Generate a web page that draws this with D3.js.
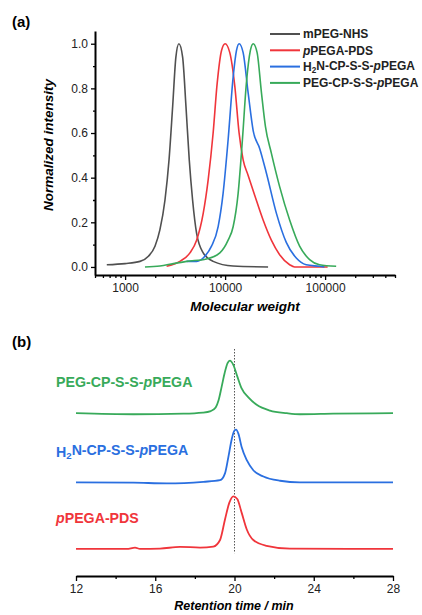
<!DOCTYPE html>
<html>
<head>
<meta charset="utf-8">
<script src="https://cdn.jsdelivr.net/npm/d3@7"></script>
<style>
  html, body { margin: 0; padding: 0; background: #fff; }
  svg { display: block; font-family: "Liberation Sans", Arial, sans-serif; }
</style>
</head>
<body>
<svg id="chart" width="422" height="615"></svg>
<script>
// ---------------- DATA ----------------
// Panel (a): molecular weight distributions [M, normalized intensity]
const mPEG_NHS = [[656,0.01],[1000,0.015],[1410,0.025],[1710,0.048],[1990,0.093],[2230,0.167],[2505,0.30],[2750,0.48],[2990,0.72],[3220,0.94],[3450,1.0],[3760,0.94],[4060,0.72],[4380,0.48],[4730,0.30],[5190,0.15],[6040,0.063],[7590,0.025],[12000,0.004],[26900,0.0]];
const pPEGA_PDS = [[2600,0.003],[3530,0.025],[4450,0.063],[5190,0.12],[6040,0.24],[6770,0.39],[7590,0.60],[8320,0.82],[9210,0.97],[10000,1.0],[11140,0.96],[12500,0.81],[13800,0.60],[15150,0.48],[17000,0.41],[19800,0.32],[24000,0.21],[29000,0.12],[35100,0.055],[44200,0.01],[49600,0.0],[106000,0.0]];
const H2N_CP_SS_pPEGA = [[4120,0.025],[5190,0.025],[6280,0.048],[7310,0.093],[8510,0.18],[9550,0.33],[10720,0.57],[12030,0.85],[13000,0.97],[13800,1.0],[15150,0.96],[17000,0.78],[19100,0.61],[22200,0.53],[25900,0.42],[32600,0.24],[40900,0.11],[51500,0.04],[64700,0.01],[87900,0.003],[98600,0.0]];
const PEG_CP_SS_pPEGA = [[1580,0.0],[2230,0.004],[3030,0.015],[4120,0.025],[6520,0.036],[8860,0.063],[10720,0.12],[12030,0.18],[13500,0.33],[14900,0.57],[16300,0.82],[17900,0.97],[19100,1.0],[20900,0.96],[23100,0.78],[25300,0.63],[29000,0.51],[35100,0.36],[44200,0.21],[55600,0.093],[70000,0.033],[87900,0.01],[129000,0.003]];

// Panel (b): GPC traces [retention time (min), normalized signal]
const gpc_PEG_CP_SS_pPEGA = [[12,0],[14.9,-0.02],[17.42,-0.01],[18.4,0.01],[18.8,0.04],[19.05,0.11],[19.2,0.25],[19.35,0.5],[19.5,0.76],[19.65,0.95],[19.77,1.0],[19.94,0.92],[20.14,0.70],[20.36,0.47],[20.7,0.30],[21.12,0.16],[21.79,0.05],[22.64,0.0],[23.3,-0.02],[24.98,-0.01],[28,0]];
const gpc_H2N_CP_SS_pPEGA = [[12,0],[14.9,-0.006],[16.58,-0.02],[18.43,0.01],[19.27,0.04],[19.52,0.17],[19.69,0.48],[19.86,0.82],[19.99,0.98],[20.08,1.0],[20.2,0.92],[20.36,0.67],[20.62,0.42],[20.95,0.23],[21.46,0.11],[22.3,0.03],[23.3,0.0],[28,0]];
const gpc_pPEGA_PDS = [[12,0],[14.56,0],[14.98,0.026],[15.23,0],[16.24,0.006],[17.25,0.04],[18.26,0.026],[18.93,0.045],[19.27,0.17],[19.52,0.56],[19.74,0.88],[19.94,1.0],[20.14,0.95],[20.36,0.69],[20.62,0.37],[20.95,0.17],[21.62,0.06],[22.8,0.006],[28,0]];
const gpcOffsets = [2.58, 1.266, 0];
const refTime = 20;

// Axis ticks
const mwMajorTicks = [1000, 10000, 100000];
const yMajorTicks = [0, 0.2, 0.4, 0.6, 0.8, 1.0];
const yMinorTicks = [0.1, 0.3, 0.5, 0.7, 0.9];
const rtMajorTicks = [12, 16, 20, 24, 28];
const rtMinorTicks = [14, 18, 22, 26];

const seriesNames = ["mPEG-NHS", "pPEGA-PDS", "H2N-CP-S-S-pPEGA", "PEG-CP-S-S-pPEGA"];
const colors = { "mPEG-NHS": "#505050", "pPEGA-PDS": "#f0353b", "H2N-CP-S-S-pPEGA": "#2a6fe0", "PEG-CP-S-S-pPEGA": "#38aa5a" };

// ---------------- DRAW ----------------
const svg = d3.select("#chart");

function richLabel(sel, name) {
  if (name === "pPEGA-PDS") {
    sel.append("tspan").attr("font-style", "italic").text("p");
    sel.append("tspan").text("PEGA-PDS");
  } else if (name === "H2N-CP-S-S-pPEGA") {
    sel.append("tspan").text("H");
    sel.append("tspan").attr("font-size", "0.68em").attr("dy", "0.3em").text("2");
    sel.append("tspan").attr("dy", "-0.3em").text("N-CP-S-S-");
    sel.append("tspan").attr("font-style", "italic").text("p");
    sel.append("tspan").text("PEGA");
  } else if (name === "PEG-CP-S-S-pPEGA") {
    sel.append("tspan").text("PEG-CP-S-S-");
    sel.append("tspan").attr("font-style", "italic").text("p");
    sel.append("tspan").text("PEGA");
  } else {
    sel.text(name);
  }
}

// ===== Panel (a) =====
const xA = d3.scaleLog().domain([500, 500000]).range([95, 395]);
const yA = d3.scaleLinear().domain([-0.036, 1.057]).range([275, 31]);

const mwMinorTicks = [];
[100, 1000, 10000, 100000].forEach(dec => {
  for (let k = 2; k <= 9; k++) {
    const v = dec * k;
    if (v >= 500 && v <= 500000 && !mwMajorTicks.includes(v)) mwMinorTicks.push(v);
  }
});

svg.append("text").attr("x", 12).attr("y", 27).attr("font-size", 15).attr("font-weight", "bold").text("(a)");

const lineA = d3.line().x(d => xA(d[0])).y(d => yA(d[1])).curve(d3.curveMonotoneX);
const dataA = [mPEG_NHS, pPEGA_PDS, H2N_CP_SS_pPEGA, PEG_CP_SS_pPEGA];
dataA.forEach((s, i) => {
  svg.append("path").datum(s).attr("d", lineA).attr("fill", "none")
    .attr("stroke", colors[seriesNames[i]]).attr("stroke-width", 1.6).attr("stroke-linejoin", "round");
});

const gxA = svg.append("g").attr("transform", "translate(0,275)");
gxA.call(d3.axisBottom(xA).tickValues(mwMinorTicks).tickSize(3).tickSizeOuter(0).tickFormat(""));
gxA.call(g => g.select(".domain").remove());
const gxA2 = svg.append("g").attr("transform", "translate(0,275)");
gxA2.call(d3.axisBottom(xA).tickValues(mwMajorTicks).tickSize(5).tickSizeOuter(0).tickFormat(d3.format("d")).tickPadding(3));
const gyA = svg.append("g").attr("transform", "translate(95,0)");
gyA.call(d3.axisLeft(yA).tickValues(yMinorTicks).tickSize(2).tickSizeOuter(0).tickFormat(""));
gyA.call(g => g.select(".domain").remove());
const gyA2 = svg.append("g").attr("transform", "translate(95,0)");
gyA2.call(d3.axisLeft(yA).tickValues(yMajorTicks).tickSize(4).tickSizeOuter(0).tickFormat(d3.format(".1f")).tickPadding(3));

[gxA, gxA2, gyA, gyA2].forEach(g => {
  g.selectAll("line").attr("stroke", "#000").attr("stroke-width", 1.3);
  g.selectAll(".domain").attr("stroke", "#000").attr("stroke-width", 2);
  g.selectAll("text").attr("font-size", 12).attr("fill", "#222").attr("font-family", "Liberation Sans, Arial, sans-serif");
});

svg.append("text").attr("transform", "translate(53,145) rotate(-90)").attr("text-anchor", "middle")
  .attr("font-size", 13.5).attr("font-weight", "bold").attr("font-style", "italic").text("Normalized intensity");
svg.append("text").attr("x", 245).attr("y", 311).attr("text-anchor", "middle")
  .attr("font-size", 13.5).attr("font-weight", "bold").attr("font-style", "italic").text("Molecular weight");

const leg = svg.append("g");
seriesNames.forEach((n, i) => {
  const yy = 34 + i * 16.3;
  leg.append("line").attr("x1", 270).attr("x2", 300).attr("y1", yy).attr("y2", yy)
    .attr("stroke", colors[n]).attr("stroke-width", 2);
  const t = leg.append("text").attr("x", 303).attr("y", yy + 4.3).attr("font-size", 12)
    .attr("font-weight", "bold").attr("fill", "#222");
  richLabel(t, n);
});

// ===== Panel (b) =====
const xB = d3.scaleLinear().domain([12, 28]).range([76, 393]);
const yB = d3.scaleLinear().domain([-0.52, 3.8]).range([576.3, 349]);

svg.append("text").attr("x", 12).attr("y", 347).attr("font-size", 15).attr("font-weight", "bold").text("(b)");

svg.append("line").attr("x1", xB(refTime)).attr("x2", xB(refTime))
  .attr("y1", yB(3.8)).attr("y2", yB(-0.08))
  .attr("stroke", "#555").attr("stroke-width", 1).attr("stroke-dasharray", "1.5,1.5");

const dataB = [gpc_PEG_CP_SS_pPEGA, gpc_H2N_CP_SS_pPEGA, gpc_pPEGA_PDS];
const namesB = ["PEG-CP-S-S-pPEGA", "H2N-CP-S-S-pPEGA", "pPEGA-PDS"];
dataB.forEach((s, i) => {
  const off = gpcOffsets[i];
  const lineB = d3.line().x(d => xB(d[0])).y(d => yB(d[1] + off)).curve(d3.curveMonotoneX);
  svg.append("path").datum(s).attr("d", lineB).attr("fill", "none")
    .attr("stroke", colors[namesB[i]]).attr("stroke-width", 1.8).attr("stroke-linejoin", "round");
  const t = svg.append("text").attr("x", 56).attr("y", yB(off + 0.49)).attr("font-size", 14.2)
    .attr("font-weight", "bold").attr("fill", colors[namesB[i]]);
  richLabel(t, namesB[i]);
});

const gxB = svg.append("g").attr("transform", "translate(0,576)");
gxB.call(d3.axisBottom(xB).tickValues(rtMinorTicks).tickSize(3).tickSizeOuter(0).tickFormat(""));
gxB.call(g => g.select(".domain").remove());
const gxB2 = svg.append("g").attr("transform", "translate(0,576)");
gxB2.call(d3.axisBottom(xB).tickValues(rtMajorTicks).tickSize(5).tickSizeOuter(0).tickFormat(d3.format("d")).tickPadding(3));
[gxB, gxB2].forEach(g => {
  g.selectAll("line").attr("stroke", "#000").attr("stroke-width", 1.3);
  g.selectAll(".domain").attr("stroke", "#000").attr("stroke-width", 2);
  g.selectAll("text").attr("font-size", 12).attr("fill", "#222").attr("font-family", "Liberation Sans, Arial, sans-serif");
});

svg.append("text").attr("x", 234).attr("y", 610).attr("text-anchor", "middle")
  .attr("font-size", 12.5).attr("font-weight", "bold").attr("font-style", "italic").text("Retention time / min");
</script>
</body>
</html>
